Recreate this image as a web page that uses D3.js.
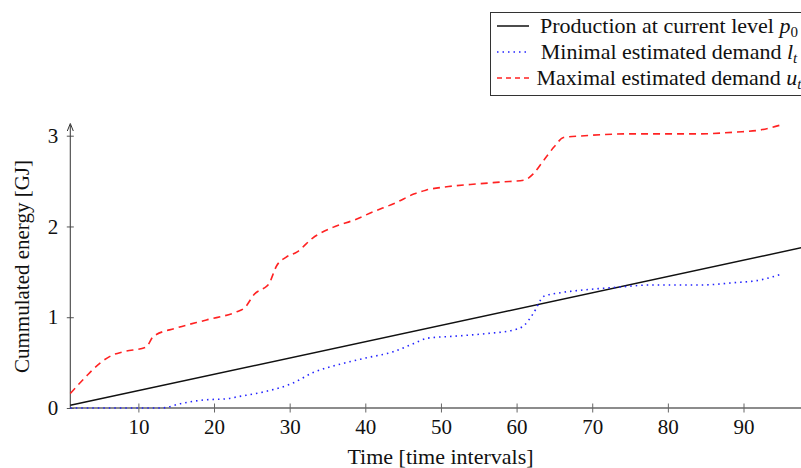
<!DOCTYPE html>
<html>
<head>
<meta charset="utf-8">
<script src="https://cdn.jsdelivr.net/npm/d3@7"></script>
<style>
  body { margin: 0; background: #fff; }
  text { font-family: "Liberation Serif", "Times New Roman", serif; fill: #111; }
</style>
</head>
<body>
<div id="chart"></div>
<script>
// time intervals and cumulated energy [GJ]
var prodTimes = [1, 98];
var prodValues = [0.03, 1.772];

var lowerTimes = [1, 13, 15.7, 18.8, 21.5, 23.2, 26.7, 30.3, 33.1, 37, 40, 43.7, 46.4, 48.3,
  51.6, 56, 59.6, 61, 62.2, 63.6, 65.8, 68.8, 73.3, 77.7, 84.3, 88.7, 92.2, 95];
var lowerValues = [0, 0, 0.05, 0.09, 0.10, 0.125, 0.18, 0.27, 0.39, 0.49, 0.55, 0.62, 0.71, 0.77,
  0.79, 0.82, 0.86, 0.91, 1.04, 1.23, 1.27, 1.30, 1.33, 1.355, 1.355, 1.38, 1.41, 1.475];

var upperTimes = [1, 3, 5, 6.5, 8, 11, 12, 15, 19, 23, 24, 25.4, 26.6, 27.2, 28.3, 29.5, 31, 33,
  36, 38.5, 41, 44, 46.5, 48, 51, 55, 58, 61, 62.2, 63.6, 65, 66.2, 69, 75, 84, 89, 92, 95];
var upperValues = [0.16, 0.34, 0.50, 0.58, 0.62, 0.67, 0.79, 0.88, 0.97, 1.06, 1.10, 1.26, 1.32, 1.36, 1.57, 1.66, 1.72, 1.87,
  2.00, 2.07, 2.16, 2.26, 2.36, 2.40, 2.44, 2.47, 2.49, 2.51, 2.58, 2.73, 2.88, 2.98, 3.00, 3.02, 3.02, 3.04, 3.06, 3.12];

var xTicks = [10, 20, 30, 40, 50, 60, 70, 80, 90];
var yTicks = [0, 1, 2, 3];

var width = 801, height = 468;

var svg = d3.select("#chart")
  .append("svg")
    .attr("width", width)
    .attr("height", height);

var x = d3.scaleLinear()
  .domain([1, 97.6])
  .range([70.3, 801]);

var y = d3.scaleLinear()
  .domain([0, 3])
  .range([408, 135.7]);

svg.append("clipPath")
    .attr("id", "plotclip")
  .append("rect")
    .attr("x", x(1) - 2)
    .attr("y", 100)
    .attr("width", width)
    .attr("height", 320);

// x axis (ticks on both sides of the line)
var gx = svg.append("g")
  .attr("transform", "translate(0," + y(0) + ")")
  .call(d3.axisBottom(x).tickValues(xTicks).tickSize(4).tickPadding(7).tickFormat(d3.format("d")));
gx.select(".domain").remove();
gx.selectAll(".tick line").attr("y1", -4.5).attr("y2", 4.5).attr("stroke", "#666");
gx.selectAll(".tick text").attr("font-size", 21).attr("font-family", "Liberation Serif").attr("fill", "#111");
svg.append("line")
  .attr("x1", x(1)).attr("x2", width)
  .attr("y1", y(0)).attr("y2", y(0))
  .attr("stroke", "#666").attr("stroke-width", 1.6);

// y axis
var gy = svg.append("g")
  .attr("transform", "translate(" + x(1) + ",0)")
  .call(d3.axisLeft(y).tickValues(yTicks).tickSize(3).tickPadding(9).tickFormat(d3.format("d")));
gy.select(".domain").remove();
gy.selectAll(".tick line").attr("x1", -3.5).attr("x2", 3.5).attr("stroke", "#555");
gy.selectAll(".tick text").attr("font-size", 21).attr("font-family", "Liberation Serif").attr("fill", "#111");
svg.append("line")
  .attr("x1", x(1)).attr("x2", x(1))
  .attr("y1", y(0)).attr("y2", 125)
  .attr("stroke", "#444").attr("stroke-width", 1.1);
svg.append("path")
  .attr("d", "M" + (x(1) - 3) + ",131 L" + x(1) + ",123.5 L" + (x(1) + 3) + ",131")
  .attr("fill", "none").attr("stroke", "#333").attr("stroke-width", 1);

// axis labels
svg.append("text")
  .attr("x", 440.5).attr("y", 464)
  .attr("text-anchor", "middle")
  .attr("font-size", 22)
  .text("Time [time intervals]");

svg.append("text")
  .attr("transform", "translate(29,266.5) rotate(-90)")
  .attr("text-anchor", "middle")
  .attr("font-size", 21)
  .text("Cummulated energy [GJ]");

var line = d3.line()
  .x(function(d) { return x(d[0]); })
  .y(function(d) { return y(d[1]); })
  .curve(d3.curveMonotoneX);

var plot = svg.append("g").attr("clip-path", "url(#plotclip)");

plot.append("path")
  .datum(d3.zip(prodTimes, prodValues))
  .attr("d", d3.line().x(function(d) { return x(d[0]); }).y(function(d) { return y(d[1]); }))
  .attr("fill", "none")
  .attr("stroke", "#111")
  .attr("stroke-width", 1.5);

plot.append("path")
  .datum(d3.zip(lowerTimes, lowerValues))
  .attr("d", line)
  .attr("fill", "none")
  .attr("stroke", "#2222ff")
  .attr("stroke-width", 1.6)
  .attr("stroke-dasharray", "1.5,4");

plot.append("path")
  .datum(d3.zip(upperTimes, upperValues))
  .attr("d", line)
  .attr("fill", "none")
  .attr("stroke", "#ff2222")
  .attr("stroke-width", 1.6)
  .attr("stroke-dasharray", "7,5");

// legend
var legend = svg.append("g");
legend.append("rect")
  .attr("x", 490.5).attr("y", 12.5)
  .attr("width", 320).attr("height", 83)
  .attr("fill", "#fff").attr("stroke", "#333").attr("stroke-width", 1);

var legendItems = [
  {label: "Production at current level ", sym: "p", sub: "0", color: "#111", dash: null},
  {label: "Minimal estimated demand ", sym: "l", sub: "t", color: "#2222ff", dash: "1.5,4"},
  {label: "Maximal estimated demand ", sym: "u", sub: "t", color: "#ff2222", dash: "5,4"}
];
var rowY = [26, 52, 78];

legendItems.forEach(function(d, i) {
  legend.append("line")
    .attr("x1", 497).attr("x2", 529)
    .attr("y1", rowY[i]).attr("y2", rowY[i])
    .attr("stroke", d.color)
    .attr("stroke-width", 1.5)
    .attr("stroke-dasharray", d.dash);
  var t = legend.append("text")
    .attr("x", 669).attr("y", rowY[i] + 7)
    .attr("text-anchor", "middle")
    .attr("font-size", 22);
  t.append("tspan").text(d.label);
  t.append("tspan").attr("font-style", "italic").text(d.sym);
  t.append("tspan").attr("font-size", 15).attr("dy", 4).attr("font-style", d.sub === "t" ? "italic" : "normal").text(d.sub);
});
</script>
</body>
</html>
